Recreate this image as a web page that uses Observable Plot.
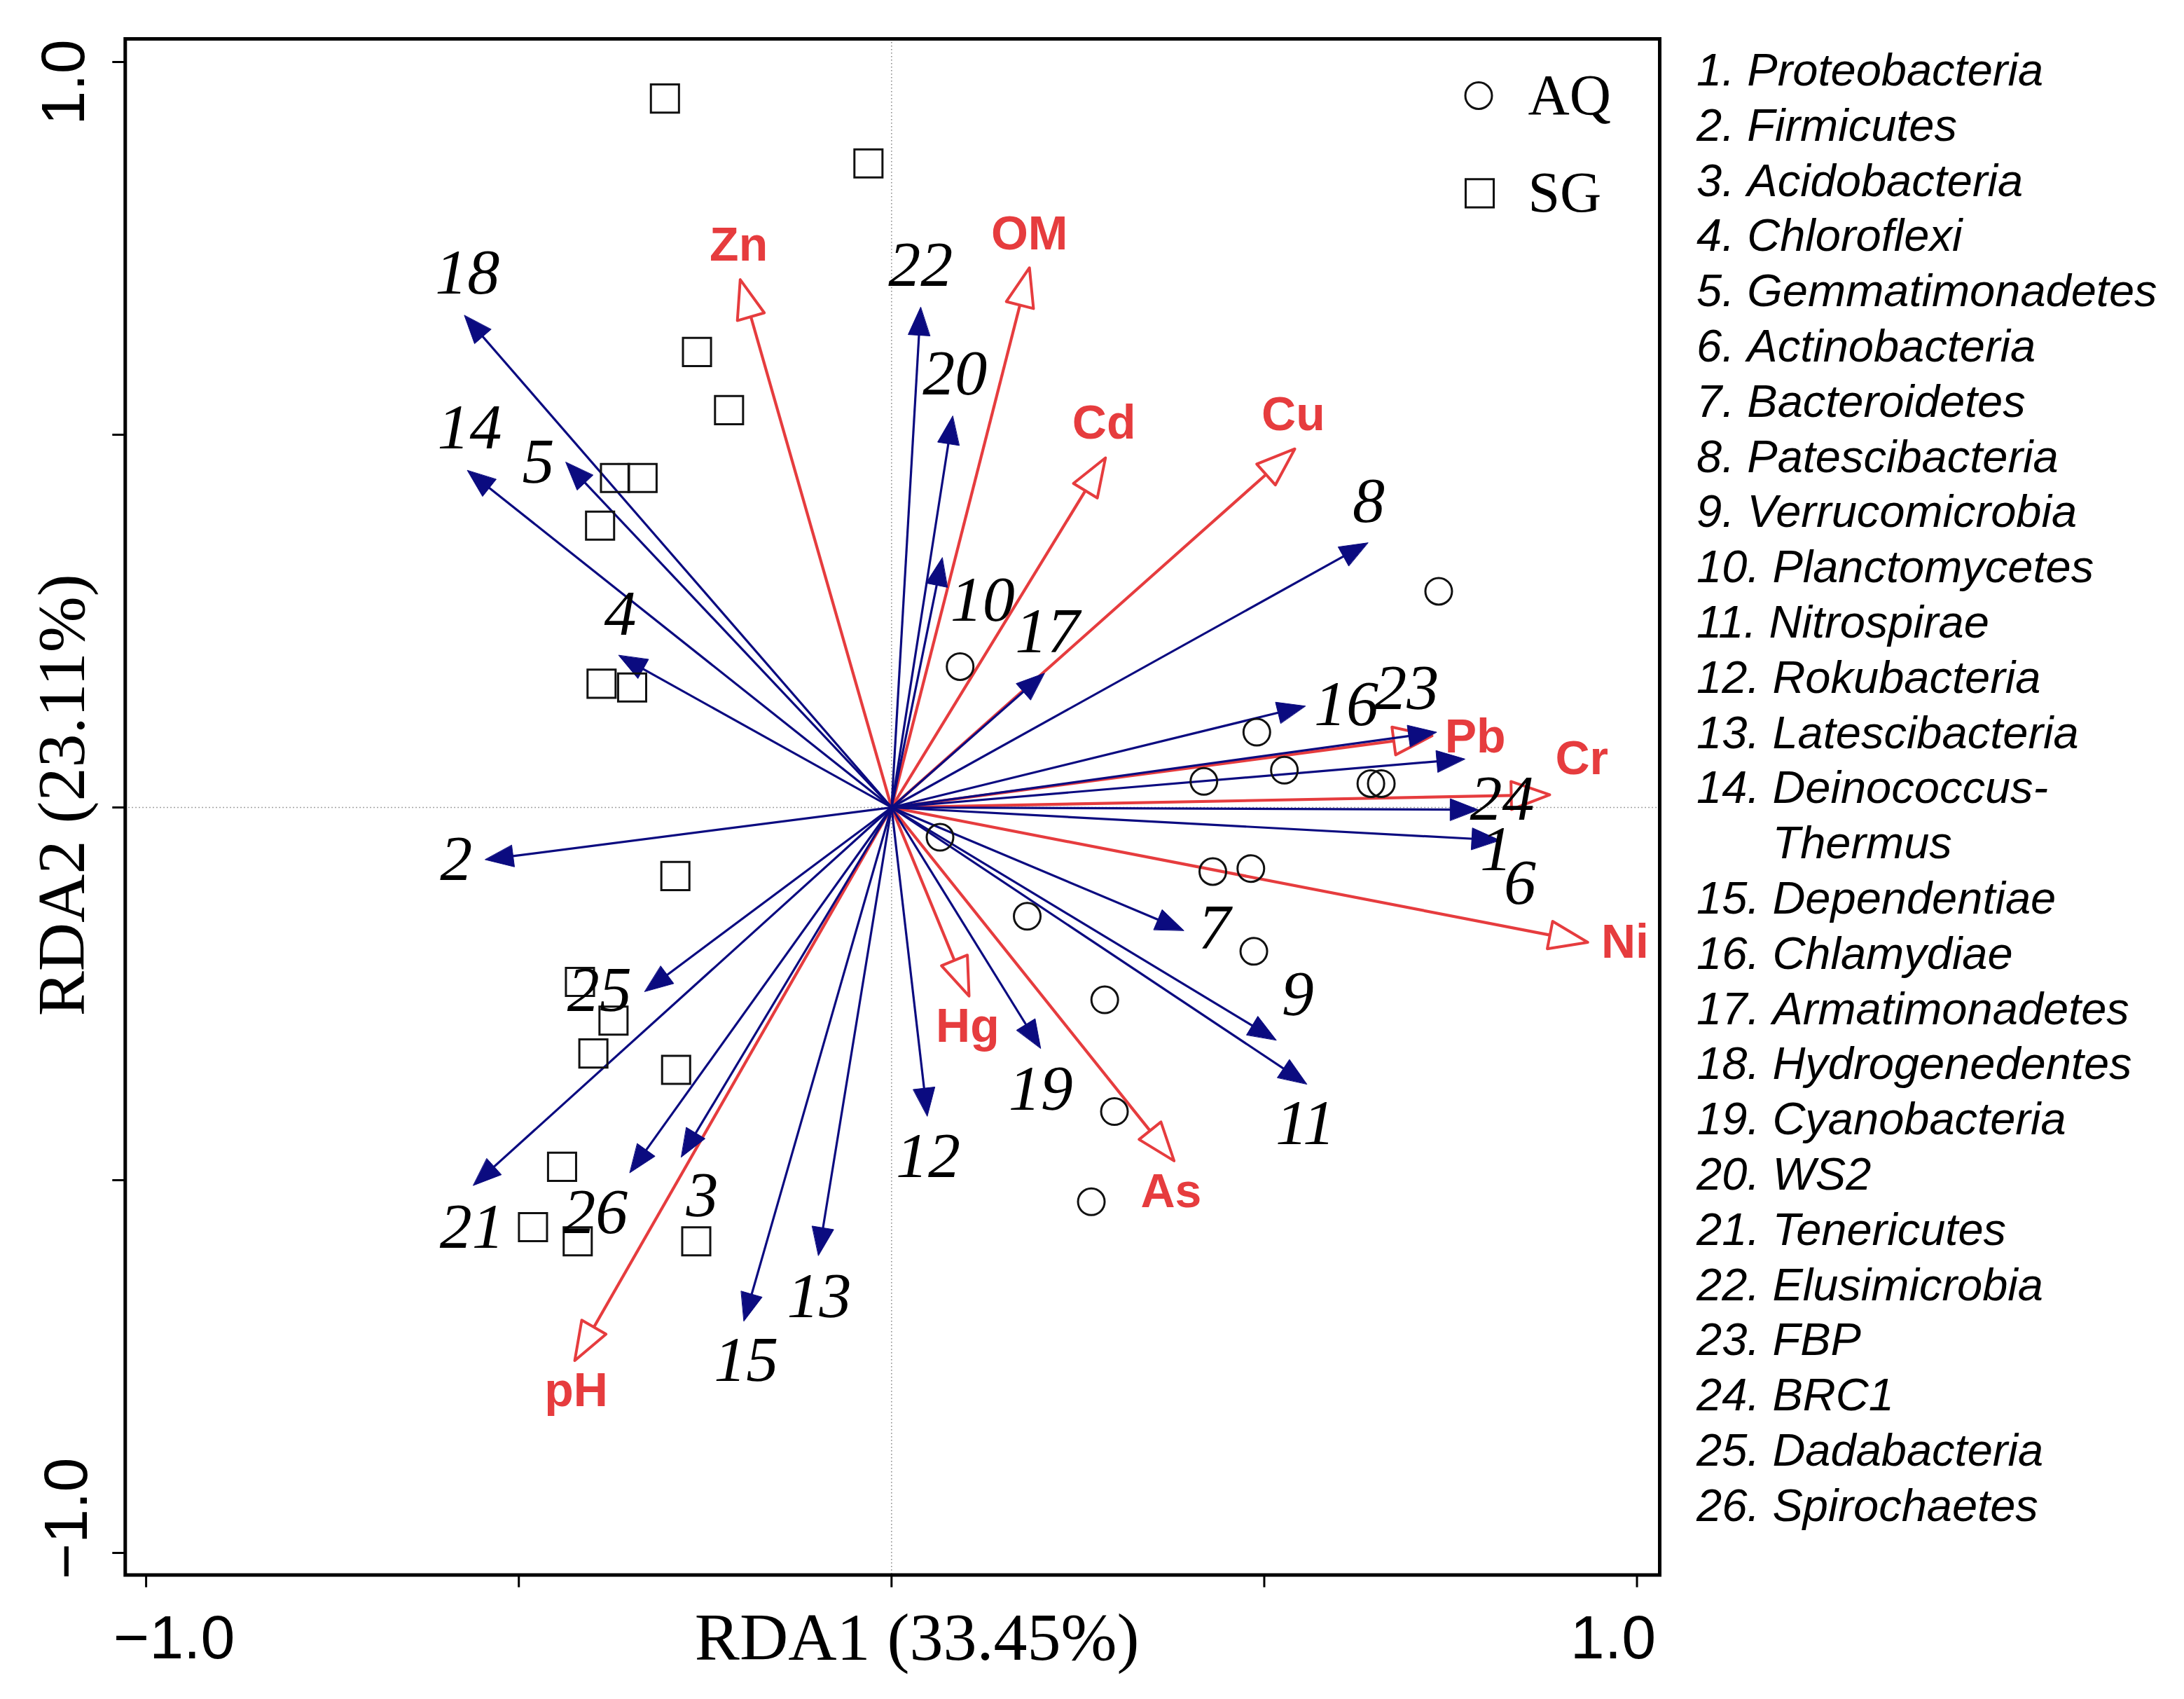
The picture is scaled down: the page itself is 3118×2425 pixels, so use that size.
<!DOCTYPE html>
<html>
<head>
<meta charset="utf-8">
<script src="https://cdn.jsdelivr.net/npm/d3@7"></script>
<script src="https://cdn.jsdelivr.net/npm/@observablehq/plot@0.6"></script>
<style>
html, body { margin: 0; padding: 0; background: #fff; }
#wrap { position: relative; width: 3118px; height: 2425px; overflow: hidden; background: #fff; }
#chart { position: absolute; left: 0; top: 0; }
#phyla { position: absolute; left: 2422px; top: 61px; font-family: "Liberation Sans", Arial, sans-serif; font-style: italic; font-size: 65px; line-height: 78.8px; color: #000; white-space: nowrap; }
#phyla .row { display: block; }
#phyla .name { display: inline-block; vertical-align: top; }
</style>
</head>
<body>
<div id="wrap"><div id="chart"></div><div id="phyla"></div></div>
<script>
// ---------------- data ----------------
const phyla = ["Proteobacteria","Firmicutes","Acidobacteria","Chloroflexi","Gemmatimonadetes","Actinobacteria","Bacteroidetes","Patescibacteria","Verrucomicrobia","Planctomycetes","Nitrospirae","Rokubacteria","Latescibacteria","Deinococcus-Thermus","Dependentiae","Chlamydiae","Armatimonadetes","Hydrogenedentes","Cyanobacteria","WS2","Tenericutes","Elusimicrobia","FBP","BRC1","Dadabacteria","Spirochaetes"];

// species arrow tips (RDA1, RDA2), ids 1..26
const speciesTipX = [0.787,-0.545,-0.282,-0.366,-0.437,0.816,0.392,0.639,0.516,0.068,0.557,0.048,-0.098,-0.569,-0.198,0.555,0.205,-0.573,0.200,0.082,-0.561,0.039,0.731,0.769,-0.331,-0.351];
const speciesTipY = [-0.003,-0.070,-0.469,0.204,0.463,-0.044,-0.165,0.355,-0.312,0.335,-0.371,-0.414,-0.601,0.452,-0.689,0.136,0.180,0.660,-0.323,0.525,-0.507,0.671,0.101,0.065,-0.247,-0.490];
// species label positions
const speciesLabX = [0.811,-0.584,-0.254,-0.364,-0.474,0.843,0.433,0.640,0.545,0.122,0.555,0.049,-0.097,-0.566,-0.195,0.610,0.209,-0.569,0.200,0.085,-0.563,0.039,0.691,0.819,-0.392,-0.397];
const speciesLabY = [-0.056,-0.070,-0.521,0.259,0.463,-0.102,-0.162,0.411,-0.251,0.278,-0.424,-0.468,-0.656,0.509,-0.742,0.138,0.236,0.717,-0.378,0.582,-0.563,0.727,0.160,0.011,-0.245,-0.543];

// environmental factors
const envNames = ["Zn","OM","Cd","Cu","Pb","Cr","Ni","Hg","As","pH"];
const envTipX = [-0.203,0.185,0.287,0.541,0.725,0.883,0.934,0.104,0.379,-0.425];
const envTipY = [0.708,0.724,0.469,0.481,0.096,0.017,-0.181,-0.253,-0.474,-0.742];
const envLabX = [-0.205,0.185,0.285,0.539,0.783,0.926,0.984,0.102,0.375,-0.423];
const envLabY = [0.754,0.769,0.515,0.527,0.094,0.065,-0.181,-0.294,-0.516,-0.783];

// sites
const aqX = [0.734,0.092,0.490,0.419,0.527,0.643,0.657,0.065,0.431,0.482,0.182,0.486,0.286,0.299,0.268];
const aqY = [0.290,0.189,0.101,0.035,0.050,0.032,0.032,-0.040,-0.086,-0.082,-0.146,-0.193,-0.258,-0.408,-0.529];
const sgX = [-0.304,-0.031,-0.261,-0.218,-0.371,-0.334,-0.391,-0.389,-0.348,-0.290,-0.418,-0.373,-0.400,-0.289,-0.442,-0.481,-0.421,-0.262];
const sgY = [0.951,0.864,0.611,0.533,0.442,0.442,0.378,0.166,0.161,-0.092,-0.234,-0.286,-0.330,-0.352,-0.482,-0.563,-0.582,-0.582];

const groups = ["AQ","SG"];
const axisTicks = [-1,-0.5,0,0.5,1];
const tickLabelValues = [-1, 1];
const tickLabelTexts = ["\u22121.0","1.0"];
const xTitle = "RDA1 (33.45%)";
const yTitle = "RDA2 (23.11%)";

// ---------------- layout ----------------
const W = 2400, H = 2425;
const mL = 178.3, mR = W - 2369, mT = 55, mB = H - 2247.5;
const xDomain = [-1.028, 1.0305], yDomain = [-1.0296, 1.031];
const kx = (xDomain[1] - xDomain[0]) / (W - mL - mR);
const ky = (yDomain[1] - yDomain[0]) / (H - mT - mB);
const NAVY = "#0b0b80", RED = "#e63c3e";

function head(tx, ty, len, half, id, back) {
  const px = tx / kx, py = ty / ky;
  const n = Math.hypot(px, py);
  const ux = px / n, uy = py / n;
  const bx = px - len * ux, by = py - len * uy;
  const ex = px - back * len * ux, ey = py - back * len * uy;
  return {
    end: {x: ex * kx, y: ey * ky},
    poly: [
      {id, x: tx, y: ty},
      {id, x: (bx - half * uy) * kx, y: (by + half * ux) * ky},
      {id, x: (bx + half * uy) * kx, y: (by - half * ux) * ky}
    ]
  };
}

const species = speciesTipX.map((x, i) => {
  const h = head(x, speciesTipY[i], 40, 15.5, "s" + i, 0.6);
  return {id: String(i + 1), ex: h.end.x, ey: h.end.y, poly: h.poly, lx: speciesLabX[i], ly: speciesLabY[i]};
});
const env = envNames.map((name, i) => {
  const h = head(envTipX[i], envTipY[i], 55, 20, "e" + i, 1);
  return {name, ex: h.end.x, ey: h.end.y, poly: h.poly, lx: envLabX[i], ly: envLabY[i]};
});
const speciesHeads = species.flatMap(d => d.poly);
const envHeads = env.flatMap(d => d.poly);
const aq = aqX.map((x, i) => ({x, y: aqY[i]}));
const sg = sgX.map((x, i) => ({x, y: sgY[i]}));

const serif = "Liberation Serif, Times New Roman, serif";
const sans = "Liberation Sans, Arial, sans-serif";

const chart = Plot.plot({
  width: W, height: H,
  marginLeft: mL, marginRight: mR, marginTop: mT, marginBottom: mB,
  x: {domain: xDomain},
  y: {domain: yDomain},
  style: {background: "white", overflow: "visible"},
  marks: [
    Plot.ruleX([0], {stroke: "#8c8c8c", strokeWidth: 1.6, strokeDasharray: "1.6,3.4"}),
    Plot.ruleY([0], {stroke: "#8c8c8c", strokeWidth: 1.6, strokeDasharray: "1.6,3.4"}),
    // environmental arrows
    Plot.link(env, {x1: () => 0, y1: () => 0, x2: "ex", y2: "ey", stroke: RED, strokeWidth: 4.2}),
    Plot.line(envHeads, {x: "x", y: "y", z: "id", curve: "linear-closed", fill: "none", stroke: RED, strokeWidth: 4}),
    // species arrows
    Plot.link(species, {x1: () => 0, y1: () => 0, x2: "ex", y2: "ey", stroke: NAVY, strokeWidth: 3.2}),
    Plot.line(speciesHeads, {x: "x", y: "y", z: "id", curve: "linear-closed", fill: NAVY, stroke: NAVY, strokeWidth: 1}),
    // sites
    Plot.dot(aq, {x: "x", y: "y", r: 19, symbol: "circle", fill: "none", stroke: "#111", strokeWidth: 3}),
    Plot.dot(sg, {x: "x", y: "y", r: 22.6, symbol: "square", fill: "none", stroke: "#111", strokeWidth: 3}),
    // labels
    Plot.text(species, {x: "lx", y: "ly", text: "id", fontFamily: serif, fontStyle: "italic", fontSize: 92, fill: "#000"}),
    Plot.text(env, {x: "lx", y: "ly", text: "name", fontFamily: sans, fontWeight: "bold", fontSize: 68, fill: RED}),
    // inner legend
    Plot.dot([groups[0]], {frameAnchor: "top-right", dx: -258.5, dy: 81, r: 19, symbol: "circle", fill: "none", stroke: "#111", strokeWidth: 3}),
    Plot.dot([groups[1]], {frameAnchor: "top-right", dx: -257, dy: 220.4, r: 22.6, symbol: "square", fill: "none", stroke: "#111", strokeWidth: 3}),
    Plot.text([groups[0]], {frameAnchor: "top-right", dx: -188, dy: 81, textAnchor: "start", lineAnchor: "middle", fontFamily: serif, fontSize: 82, fill: "#000"}),
    Plot.text([groups[1]], {frameAnchor: "top-right", dx: -188, dy: 220.4, textAnchor: "start", lineAnchor: "middle", fontFamily: serif, fontSize: 82, fill: "#000"}),
    // axes ticks
    Plot.axisX({ticks: axisTicks, tickSize: 18, tickFormat: () => "", strokeWidth: 3, label: null, anchor: "bottom"}),
    Plot.axisY({ticks: axisTicks, tickSize: 18, tickFormat: () => "", strokeWidth: 3, label: null, anchor: "left"}),
    // tick labels
    Plot.text([tickLabelValues[0]], {x: d => d, text: () => tickLabelTexts[0], frameAnchor: "bottom", textAnchor: "middle", lineAnchor: "middle", dy: 90.5, dx: 40, fontFamily: sans, fontSize: 88, fill: "#000"}),
    Plot.text([tickLabelValues[1]], {x: d => d, text: () => tickLabelTexts[1], frameAnchor: "bottom", textAnchor: "middle", lineAnchor: "middle", dy: 90.5, dx: -34, fontFamily: sans, fontSize: 88, fill: "#000"}),
    Plot.text([tickLabelValues[1]], {y: d => d, text: () => tickLabelTexts[1], frameAnchor: "left", textAnchor: "middle", lineAnchor: "middle", dx: -87, dy: 29, rotate: -90, fontFamily: sans, fontSize: 88, fill: "#000"}),
    Plot.text([tickLabelValues[0]], {y: d => d, text: () => tickLabelTexts[0], frameAnchor: "left", textAnchor: "middle", lineAnchor: "middle", dx: -83, dy: -49, rotate: -90, fontFamily: sans, fontSize: 88, fill: "#000"}),
    // axis titles
    Plot.text([xTitle], {frameAnchor: "bottom", textAnchor: "middle", lineAnchor: "middle", dx: 35, dy: 90.5, fontFamily: serif, fontSize: 96, fill: "#000"}),
    Plot.text([yTitle], {frameAnchor: "left", textAnchor: "middle", lineAnchor: "middle", dx: -90, dy: -17, rotate: -90, fontFamily: serif, fontSize: 96, fill: "#000"}),
    Plot.frame({stroke: "#000", strokeWidth: 5})
  ]
});
document.getElementById("chart").appendChild(chart);

// phyla list
const list = document.getElementById("phyla");
phyla.forEach((name, i) => {
  const row = document.createElement("div");
  row.className = "row";
  row.appendChild(document.createTextNode((i + 1) + ". "));
  const span = document.createElement("span");
  span.className = "name";
  const parts = name.split("-");
  parts.forEach((p, j) => {
    span.appendChild(document.createTextNode(p + (j < parts.length - 1 ? "-" : "")));
    if (j < parts.length - 1) span.appendChild(document.createElement("br"));
  });
  row.appendChild(span);
  list.appendChild(row);
});
</script>
</body>
</html>
